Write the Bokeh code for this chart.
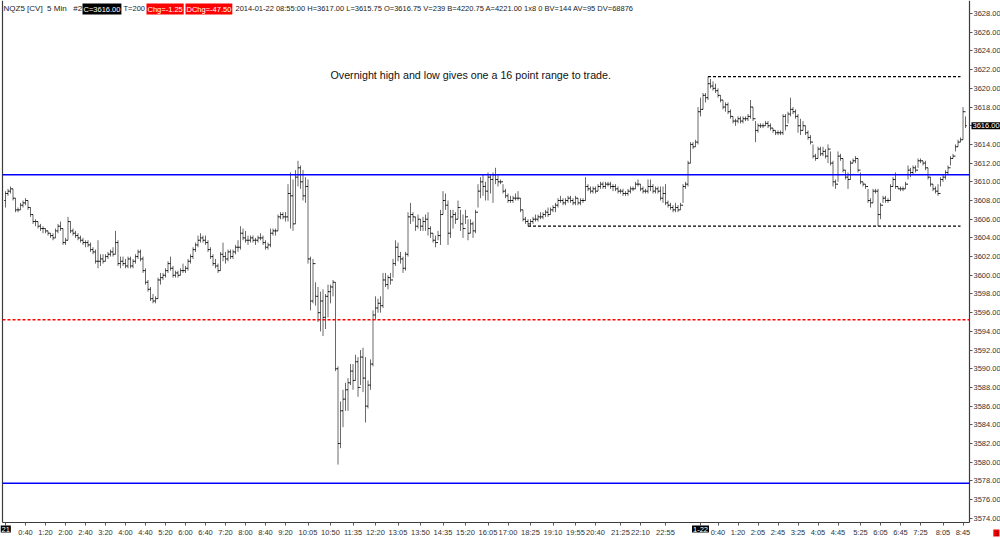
import numpy as np
from bokeh.plotting import figure
from bokeh.models import Range1d, Label, FixedTicker, NumeralTickFormatter
from bokeh.embed import file_html
from bokeh.resources import INLINE

# ---------------- data (5-min bars, NQ) ----------------
highs = [
    3609.0, 3609.25, 3609.5, 3609.25, 3608.25, 3607.25, 3607.75, 3608.0,
    3608.25, 3608.0, 3607.25, 3606.5, 3606.0, 3605.75, 3605.5, 3605.25,
    3605.0, 3604.75, 3604.5, 3604.5, 3605.0, 3605.5, 3605.75, 3605.0,
    3604.0, 3606.25, 3605.75, 3605.0, 3604.75, 3604.5, 3604.25, 3604.0,
    3603.75, 3603.75, 3603.5, 3603.0, 3602.75, 3603.75, 3602.25, 3602.25,
    3602.25, 3602.5, 3602.75, 3603.0, 3604.75, 3603.75, 3602.0, 3602.0,
    3601.75, 3602.0, 3602.0, 3601.75, 3602.25, 3602.75, 3602.75, 3602.0,
    3600.75, 3599.5, 3598.75, 3598.0, 3597.75, 3599.75, 3600.25, 3600.25,
    3600.75, 3601.5, 3602.0, 3601.0, 3600.5, 3600.5, 3600.75, 3601.25,
    3601.0, 3601.75, 3602.25, 3603.0, 3603.5, 3604.25, 3604.5, 3604.25,
    3604.25, 3603.75, 3603.0, 3602.25, 3601.75, 3601.25, 3602.5, 3603.5,
    3602.5, 3602.75, 3602.75, 3602.75, 3603.25, 3603.75, 3605.25, 3605.0,
    3604.75, 3604.25, 3604.25, 3604.25, 3604.0, 3604.25, 3604.5, 3604.25,
    3603.75, 3603.5, 3605.0, 3605.0, 3605.0, 3606.5, 3606.75, 3606.75,
    3606.75, 3609.75, 3611.0, 3610.25, 3611.25, 3612.25, 3611.75, 3611.25,
    3610.5, 3610.25, 3602.0, 3601.75, 3599.25, 3598.75, 3598.25, 3598.5,
    3598.0, 3599.0, 3599.0, 3599.5, 3599.25, 3590.25, 3586.5, 3587.75,
    3588.5, 3589.0, 3590.5, 3590.5, 3591.5, 3591.25, 3592.0, 3592.25,
    3591.25, 3588.75, 3591.0, 3596.25, 3597.75, 3597.5, 3597.75, 3600.25,
    3600.25, 3600.0, 3600.25, 3601.75, 3603.75, 3603.5, 3602.5, 3602.0,
    3602.5, 3606.75, 3607.75, 3606.75, 3606.25, 3606.5, 3606.0, 3606.25,
    3606.5, 3606.75, 3605.25, 3604.5, 3604.25, 3604.75, 3607.0, 3609.0,
    3608.75, 3608.0, 3607.0, 3607.0, 3606.75, 3608.0, 3607.0, 3606.5,
    3607.0, 3606.0, 3606.0, 3605.75, 3607.0, 3609.75, 3610.5, 3610.75,
    3610.0, 3611.0, 3610.75, 3611.0, 3611.5, 3610.75, 3610.25, 3609.75,
    3609.25, 3608.75, 3608.5, 3608.5, 3608.75, 3609.0, 3608.25, 3607.0,
    3606.25, 3606.0, 3606.0, 3606.25, 3606.5, 3606.5, 3606.75, 3606.75,
    3607.0, 3607.25, 3607.25, 3607.5, 3607.75, 3608.25, 3608.5, 3608.25,
    3608.25, 3608.5, 3608.5, 3608.25, 3608.5, 3608.25, 3608.25, 3608.25,
    3610.5, 3609.75, 3609.5, 3609.5, 3609.5, 3609.75, 3610.0, 3610.0,
    3610.0, 3610.0, 3610.0, 3609.75, 3609.75, 3609.5, 3609.25, 3609.25,
    3609.0, 3609.25, 3609.5, 3609.5, 3610.0, 3610.25, 3609.75, 3609.5,
    3609.25, 3610.25, 3610.25, 3609.75, 3609.5, 3609.5, 3609.5, 3609.5,
    3609.75, 3608.0, 3607.75, 3607.5, 3607.75, 3607.5, 3607.75, 3609.75,
    3610.0, 3612.25, 3614.25, 3614.25, 3614.5, 3618.0, 3619.0, 3619.5,
    3619.5, 3621.25, 3621.0, 3620.75, 3620.5, 3620.0, 3619.25, 3618.75,
    3618.5, 3618.5, 3617.75, 3617.0, 3616.75, 3617.0, 3617.0, 3617.0,
    3617.0, 3617.25, 3618.75, 3618.0, 3616.5, 3616.25, 3616.25, 3616.25,
    3616.5, 3616.5, 3616.25, 3615.75, 3615.5, 3615.5, 3615.5, 3617.25,
    3617.25, 3617.5, 3619.0, 3618.0, 3617.75, 3617.25, 3616.75, 3616.5,
    3616.0, 3615.5, 3615.0, 3614.0, 3613.0, 3613.75, 3613.75, 3613.75,
    3613.5, 3614.0, 3613.25, 3612.25, 3610.25, 3613.25, 3613.0, 3612.5,
    3611.25, 3611.0, 3612.25, 3612.5, 3612.75, 3612.5, 3611.0, 3610.0,
    3609.75, 3609.25, 3608.25, 3609.25, 3609.25, 3609.25, 3607.75, 3608.5,
    3608.5, 3608.25, 3609.75, 3610.5, 3611.0, 3609.5, 3609.5, 3609.5,
    3610.0, 3611.75, 3611.5, 3611.75, 3611.75, 3612.5, 3612.5, 3612.25,
    3612.25, 3611.5, 3610.5, 3609.75, 3609.5, 3609.75, 3610.5, 3610.75,
    3611.25, 3611.75, 3612.75, 3613.0, 3614.0, 3614.5, 3614.75, 3618.0,
    3617.0,
]
lows = [
    3607.25, 3608.5, 3608.75, 3608.0, 3606.75, 3606.75, 3607.0, 3607.25,
    3607.5, 3607.0, 3606.25, 3605.5, 3605.25, 3605.0, 3604.75, 3604.5,
    3604.5, 3604.25, 3604.0, 3603.75, 3604.0, 3604.5, 3604.75, 3603.25,
    3603.25, 3603.75, 3604.5, 3604.25, 3604.0, 3603.75, 3603.5, 3603.25,
    3603.0, 3603.0, 3602.5, 3602.25, 3601.25, 3600.75, 3601.0, 3601.25,
    3601.5, 3601.75, 3602.0, 3602.0, 3602.25, 3601.0, 3600.75, 3601.0,
    3600.75, 3600.75, 3600.75, 3600.75, 3601.25, 3601.75, 3601.5, 3600.25,
    3599.0, 3598.25, 3597.25, 3597.0, 3597.0, 3597.5, 3599.0, 3599.5,
    3599.75, 3600.25, 3600.5, 3599.75, 3599.75, 3599.75, 3600.0, 3600.25,
    3600.25, 3600.5, 3601.25, 3601.75, 3602.5, 3603.0, 3603.5, 3603.5,
    3603.25, 3602.5, 3601.75, 3601.0, 3600.75, 3600.25, 3600.5, 3601.5,
    3601.25, 3601.5, 3601.75, 3601.75, 3602.25, 3602.5, 3602.75, 3603.75,
    3603.5, 3603.25, 3603.5, 3603.5, 3603.25, 3603.5, 3603.75, 3603.25,
    3602.75, 3602.75, 3603.0, 3604.25, 3604.25, 3604.75, 3606.0, 3606.0,
    3605.75, 3605.75, 3605.0, 3604.75, 3605.5, 3609.5, 3609.25, 3608.0,
    3607.75, 3601.25, 3596.25, 3597.0, 3596.75, 3595.0, 3594.0, 3593.5,
    3594.25, 3595.5, 3597.0, 3597.75, 3589.75, 3579.75, 3581.5, 3583.75,
    3585.5, 3585.5, 3588.25, 3587.75, 3588.75, 3587.0, 3588.25, 3587.5,
    3584.25, 3585.75, 3587.75, 3590.25, 3595.25, 3596.0, 3596.0, 3596.5,
    3598.75, 3598.5, 3599.0, 3599.75, 3601.0, 3601.5, 3601.25, 3600.25,
    3600.5, 3602.0, 3605.5, 3605.75, 3604.75, 3605.0, 3604.75, 3604.75,
    3604.75, 3604.25, 3604.0, 3603.5, 3603.0, 3603.75, 3603.25, 3606.5,
    3607.0, 3603.25, 3604.0, 3605.0, 3605.5, 3606.0, 3604.75, 3604.0,
    3605.5, 3603.75, 3604.5, 3604.0, 3604.5, 3607.25, 3608.25, 3608.5,
    3608.0, 3608.0, 3608.75, 3607.75, 3609.75, 3609.5, 3609.75, 3608.75,
    3608.25, 3607.75, 3607.75, 3607.75, 3608.0, 3608.0, 3606.75, 3605.75,
    3605.5, 3605.25, 3605.25, 3605.5, 3605.75, 3605.75, 3606.0, 3606.0,
    3606.25, 3606.25, 3606.5, 3606.75, 3606.75, 3607.25, 3607.75, 3607.5,
    3607.5, 3607.75, 3607.75, 3607.5, 3607.5, 3607.5, 3607.5, 3607.75,
    3608.0, 3609.0, 3608.75, 3608.75, 3608.75, 3609.0, 3609.25, 3609.25,
    3609.25, 3609.5, 3609.25, 3609.0, 3609.0, 3608.75, 3608.75, 3608.5,
    3608.5, 3608.5, 3608.75, 3609.0, 3609.25, 3609.5, 3609.0, 3608.75,
    3608.75, 3608.75, 3609.0, 3608.75, 3608.75, 3608.75, 3608.0, 3607.75,
    3607.5, 3607.25, 3607.0, 3606.75, 3606.75, 3606.75, 3607.0, 3607.75,
    3609.25, 3609.5, 3612.0, 3613.5, 3613.75, 3614.0, 3617.0, 3617.75,
    3618.5, 3618.75, 3620.0, 3619.75, 3619.5, 3619.0, 3618.5, 3617.75,
    3617.5, 3617.25, 3616.75, 3616.25, 3616.0, 3616.25, 3616.25, 3616.25,
    3616.5, 3616.5, 3616.75, 3616.5, 3614.25, 3615.25, 3615.75, 3615.75,
    3616.0, 3615.75, 3615.5, 3615.25, 3615.0, 3615.0, 3615.0, 3615.0,
    3615.5, 3616.25, 3617.0, 3617.25, 3616.75, 3615.25, 3615.0, 3615.5,
    3615.0, 3614.5, 3614.0, 3612.5, 3612.25, 3612.5, 3612.75, 3612.75,
    3612.5, 3612.0, 3611.75, 3609.5, 3609.25, 3610.0, 3612.25, 3611.0,
    3610.25, 3609.25, 3610.25, 3612.0, 3612.0, 3611.0, 3609.75, 3609.5,
    3609.25, 3607.75, 3607.25, 3607.75, 3608.75, 3605.25, 3606.0, 3607.75,
    3607.75, 3607.75, 3608.0, 3609.5, 3609.25, 3609.25, 3609.0, 3609.0,
    3609.25, 3610.25, 3610.5, 3610.75, 3611.0, 3611.5, 3612.0, 3611.75,
    3611.25, 3610.25, 3609.5, 3609.0, 3608.75, 3608.5, 3609.5, 3610.0,
    3610.25, 3610.75, 3611.75, 3612.5, 3613.25, 3613.75, 3614.25, 3614.5,
    3615.75,
]
closes = [
    3608.75, 3609.0, 3609.25, 3608.25, 3607.0, 3607.0, 3607.5, 3607.75,
    3608.0, 3607.25, 3606.5, 3605.75, 3605.75, 3605.25, 3605.0, 3605.0,
    3604.75, 3604.5, 3604.25, 3604.0, 3604.75, 3605.25, 3605.0, 3603.5,
    3603.75, 3605.75, 3604.75, 3604.5, 3604.25, 3604.0, 3603.75, 3603.5,
    3603.5, 3603.25, 3602.75, 3602.5, 3601.5, 3601.5, 3601.75, 3601.5,
    3602.0, 3602.25, 3602.5, 3602.25, 3603.5, 3601.25, 3601.5, 3601.25,
    3601.0, 3601.75, 3601.0, 3601.5, 3602.0, 3602.5, 3601.75, 3600.5,
    3599.25, 3598.5, 3597.5, 3597.25, 3597.5, 3599.5, 3599.75, 3600.0,
    3600.5, 3601.25, 3600.75, 3600.0, 3600.25, 3600.0, 3600.5, 3600.5,
    3600.75, 3601.5, 3602.0, 3602.75, 3603.25, 3603.75, 3604.0, 3603.75,
    3603.5, 3602.75, 3602.0, 3601.25, 3601.0, 3600.5, 3602.25, 3602.0,
    3601.75, 3602.5, 3602.0, 3602.5, 3603.0, 3603.0, 3604.5, 3604.0,
    3603.75, 3603.75, 3604.0, 3603.75, 3603.75, 3604.0, 3604.0, 3603.5,
    3603.0, 3603.25, 3604.5, 3604.75, 3604.75, 3606.25, 3606.5, 3606.25,
    3606.25, 3608.75, 3608.5, 3605.5, 3610.5, 3611.5, 3610.0, 3608.5,
    3609.5, 3601.75, 3597.25, 3601.25, 3597.75, 3596.0, 3597.25, 3595.5,
    3597.75, 3598.25, 3598.75, 3599.25, 3590.0, 3582.0, 3585.5, 3586.75,
    3587.75, 3588.5, 3589.75, 3588.75, 3590.75, 3588.0, 3591.25, 3589.0,
    3586.0, 3588.25, 3590.5, 3595.75, 3596.5, 3597.0, 3596.75, 3599.5,
    3599.0, 3599.75, 3599.5, 3601.25, 3603.0, 3602.0, 3601.75, 3600.75,
    3602.25, 3606.25, 3606.5, 3606.25, 3605.25, 3606.0, 3605.25, 3605.75,
    3606.0, 3605.0, 3604.5, 3603.75, 3603.5, 3604.25, 3606.5, 3608.0,
    3607.5, 3604.5, 3606.25, 3606.5, 3606.0, 3607.25, 3605.5, 3605.0,
    3606.25, 3604.5, 3605.5, 3604.75, 3606.75, 3609.0, 3610.0, 3609.5,
    3609.0, 3610.5, 3610.25, 3610.75, 3610.25, 3610.0, 3610.0, 3609.0,
    3608.5, 3608.0, 3608.0, 3608.25, 3608.25, 3608.25, 3607.0, 3606.0,
    3605.75, 3605.5, 3605.75, 3606.0, 3606.0, 3606.25, 3606.25, 3606.5,
    3606.75, 3606.5, 3607.0, 3607.25, 3607.5, 3608.0, 3608.0, 3607.75,
    3608.0, 3608.25, 3608.0, 3607.75, 3608.25, 3607.75, 3608.0, 3608.0,
    3609.5, 3609.25, 3609.0, 3609.25, 3609.0, 3609.5, 3609.75, 3609.5,
    3609.75, 3609.75, 3609.5, 3609.5, 3609.25, 3609.0, 3609.0, 3608.75,
    3608.75, 3609.0, 3609.25, 3609.25, 3609.75, 3609.75, 3609.25, 3609.0,
    3609.0, 3609.5, 3609.5, 3609.0, 3609.25, 3609.0, 3608.25, 3608.75,
    3607.75, 3607.5, 3607.25, 3607.0, 3607.25, 3607.0, 3607.5, 3609.5,
    3609.75, 3612.0, 3614.0, 3613.75, 3614.25, 3617.5, 3617.75, 3619.25,
    3619.0, 3620.5, 3620.25, 3620.0, 3619.75, 3619.25, 3618.75, 3618.0,
    3618.25, 3617.5, 3617.0, 3616.5, 3616.5, 3616.75, 3616.5, 3616.75,
    3616.75, 3617.0, 3618.0, 3616.75, 3615.5, 3616.0, 3616.0, 3616.0,
    3616.25, 3616.0, 3615.75, 3615.5, 3615.25, 3615.25, 3615.25, 3617.0,
    3616.0, 3617.25, 3617.75, 3617.5, 3617.0, 3616.0, 3615.5, 3616.0,
    3615.25, 3614.75, 3614.25, 3612.75, 3612.5, 3613.5, 3613.0, 3613.25,
    3612.75, 3613.5, 3612.0, 3610.0, 3609.75, 3612.75, 3612.5, 3611.25,
    3610.5, 3610.25, 3612.0, 3612.25, 3612.5, 3611.25, 3610.0, 3609.75,
    3609.5, 3608.0, 3607.75, 3609.0, 3609.0, 3606.5, 3607.5, 3608.25,
    3608.0, 3608.0, 3609.5, 3610.25, 3609.5, 3609.25, 3609.25, 3609.25,
    3609.75, 3611.25, 3611.0, 3611.5, 3611.25, 3612.25, 3612.25, 3612.0,
    3611.5, 3610.5, 3609.75, 3609.25, 3609.0, 3608.75, 3610.25, 3610.5,
    3611.0, 3611.5, 3612.5, 3612.75, 3613.75, 3614.25, 3614.5, 3617.5,
    3616.0,
]
first_open = 3608.0

# time-axis labels and the bar index they sit under
x_labels = ["21", "0:40", "1:20", "2:00", "2:40", "3:20", "4:00", "4:40", "5:20",
            "6:00", "6:40", "7:20", "8:00", "8:40", "9:20", "10:05", "10:50", "11:35",
            "12:20", "13:05", "13:50", "14:35", "15:20", "16:05", "17:00", "18:25",
            "19:10", "19:55", "20:40", "21:25", "22:10", "22:55", "1-22", "0:40",
            "1:20", "2:05", "2:45", "3:25", "4:05", "4:45", "5:25", "6:05", "6:45",
            "7:25", "8:05", "8:45"]
x_label_bars = [0, 8, 16, 24, 32, 40, 48, 56, 64, 72, 80, 88, 96, 104, 112, 121,
                130, 139, 148, 157, 166, 175, 184, 193, 201, 210, 219, 228, 236, 246,
                254, 264, 278, 285, 293, 301, 309, 317, 325, 333, 342, 350, 358, 366,
                375, 383]
date_labels = ["21", "1-22"]
price_ticks = [3574 + 2 * k for k in range(28)]   # 3574 ... 3628

# reference levels
prior_high = 3610.75
prior_low = 3577.75
mid_level = 3595.25
overnight_start_bar = 204

NB = "\u00a0"
header_plain = "NQZ5 [CV]" + NB * 2 + "5 Min" + NB * 3 + "#2"
header_close = "C=3616.00"
header_ticks = "T=200"
header_chg = "Chg=-1.25"
header_dchg = "DChg=-47.50"
header_rest = ("2014-01-22 08:55:00 H=3617.00 L=3615.75 O=3616.75 V=239 "
               "B=4220.75 A=4221.00 1x8 0 BV=144 AV=95 DV=68876")
note_text = "Overnight high and low gives one a 16 point range to trade."

# ---------------- geometry ----------------
n = min(len(highs), len(lows), len(closes))
highs, lows, closes = highs[:n], lows[:n], closes[:n]
opens = [first_open] + closes[:-1]
idx = np.arange(n)

W, H = 1000, 538
BOX_L, BOX_R, BOX_B = 2, 969, 522          # chart box in canvas pixels
X0, X1 = -1.2, n + 0.6                       # bar-index span of the chart box
Y0, Y1 = 3573.55, 3629.4                     # price span of the chart box
xs = (X1 - X0) / (BOX_R - BOX_L)
ys = (Y1 - Y0) / BOX_B
XR0, XR1 = X0 - BOX_L * xs, X1 + (W - BOX_R) * xs
YR0, YR1 = Y0 - (H - BOX_B) * ys, Y1

FONT = "Liberation Sans"
AX = "#3c3c3c"

p = figure(width=W, height=H, output_backend="svg", toolbar_location=None,
           x_range=Range1d(XR0, XR1), y_range=Range1d(YR0, YR1),
           y_axis_location="right", min_border_left=0, min_border_top=0,
           min_border_right=0, min_border_bottom=0)
p.grid.visible = False
p.outline_line_color = None
p.background_fill_color = "white"
p.border_fill_color = "white"

ya = p.yaxis[0]
ya.fixed_location = X1
ya.ticker = FixedTicker(ticks=price_ticks)
ya.formatter = NumeralTickFormatter(format="0.00")
ya.major_label_text_font = FONT
ya.major_label_text_font_size = "7.5px"
ya.major_label_text_color = "#333333"
ya.axis_line_color = None
ya.major_tick_line_color = "#555555"
ya.major_tick_out = 3
ya.major_tick_in = 0
ya.minor_tick_out = 0
ya.minor_tick_in = 0
ya.major_label_standoff = 1

xa = p.xaxis[0]
xa.fixed_location = Y0
xa.ticker = FixedTicker(ticks=x_label_bars)
xa.major_label_overrides = {b: ("" if t in date_labels else t)
                            for b, t in zip(x_label_bars, x_labels)}
xa.major_label_text_font = FONT
xa.major_label_text_font_size = "7.5px"
xa.major_label_text_color = "#333333"
xa.axis_line_color = None
xa.major_tick_line_color = "#555555"
xa.major_tick_out = 3
xa.major_tick_in = 0
xa.minor_tick_out = 0
xa.minor_tick_in = 0
xa.major_label_standoff = 2

# chart box (left, bottom, right)
p.segment([X0, X0, X1], [Y0, Y0, Y0], [X0, X1, X1], [Y1, Y0, Y1],
          line_color=AX, line_width=1.2)

# OHLC bars
p.segment(idx, lows, idx, highs, line_color="#6a6a6a", line_width=1)
p.segment(idx - 0.5, opens, idx, opens, line_color="#111111", line_width=1)
p.segment(idx, closes, idx + 0.5, closes, line_color="#111111", line_width=1)

# horizontal levels across the chart box
p.segment([X0, X0], [prior_high, prior_low], [X1, X1], [prior_high, prior_low],
          line_color="#0000ff", line_width=1.6)
p.segment([X0], [mid_level], [X1], [mid_level], line_color="#ff0000",
          line_width=1.4, line_dash="3 2")

on_hi_bar = overnight_start_bar + int(np.argmax(highs[overnight_start_bar:]))
on_lo_bar = overnight_start_bar + int(np.argmin(lows[overnight_start_bar:]))
on_hi = highs[on_hi_bar]
on_lo = lows[on_lo_bar]
end_bar = n - 3
p.segment([on_hi_bar, on_lo_bar], [on_hi, on_lo], [end_bar, end_bar], [on_hi, on_lo],
          line_color="#000000", line_width=1.2, line_dash="3 2")

# note
p.add_layout(Label(x=130, y=3621.4, text=note_text, text_font=FONT,
                   text_font_size="10.7px", text_color="#111111",
                   text_baseline="middle", text_align="left"))

# header row
hy = Y1 - 3 * ys
def hdr(text, xoff, bg=None, color="#222222", size="7.5px"):
    kw = dict(x=X0, y=hy, x_offset=xoff, text=text, text_font=FONT,
              text_font_size=size, text_color=color, text_baseline="top",
              text_align="left")
    if bg is not None:
        kw.update(background_fill_color=bg, background_fill_alpha=1.0, padding=1)
    p.add_layout(Label(**kw))

hdr(header_plain, 1, size="8px")
hdr(header_close, 80, bg="black", color="white")
hdr(header_ticks, 121)
hdr(header_chg, 144, bg="#ff0000", color="white")
hdr(header_dchg, 183, bg="#ff0000", color="white")
hdr(header_rest, 233)

# current price marker on the price axis
p.add_layout(Label(x=X1, y=closes[-1], x_offset=2, text=f"{closes[-1]:.2f}",
                   text_font=FONT, text_font_size="7.5px", text_color="white",
                   text_baseline="middle", text_align="left", padding=1,
                   background_fill_color="black", background_fill_alpha=1.0))

# session date boxes under the time axis
for b, t in zip(x_label_bars, x_labels):
    if t in date_labels:
        left = b == 0
        p.add_layout(Label(x=(XR0 if left else b), y=Y0 - 3 * ys, text=t,
                           text_font=FONT, text_font_size="7.5px", text_color="white",
                           text_baseline="top", padding=1,
                           text_align=("left" if left else "center"),
                           background_fill_color="black", background_fill_alpha=1.0))

# small red marker bottom-right
p.add_layout(Label(x=XR1, y=YR0 + 2 * ys, x_offset=-1, text="3", text_font=FONT,
                   text_font_size="7.5px", text_color="#660000", text_baseline="bottom",
                   text_align="right", background_fill_color="#ff0000",
                   background_fill_alpha=1.0, padding=1))

open("out.html", "w").write(file_html(p, INLINE))
